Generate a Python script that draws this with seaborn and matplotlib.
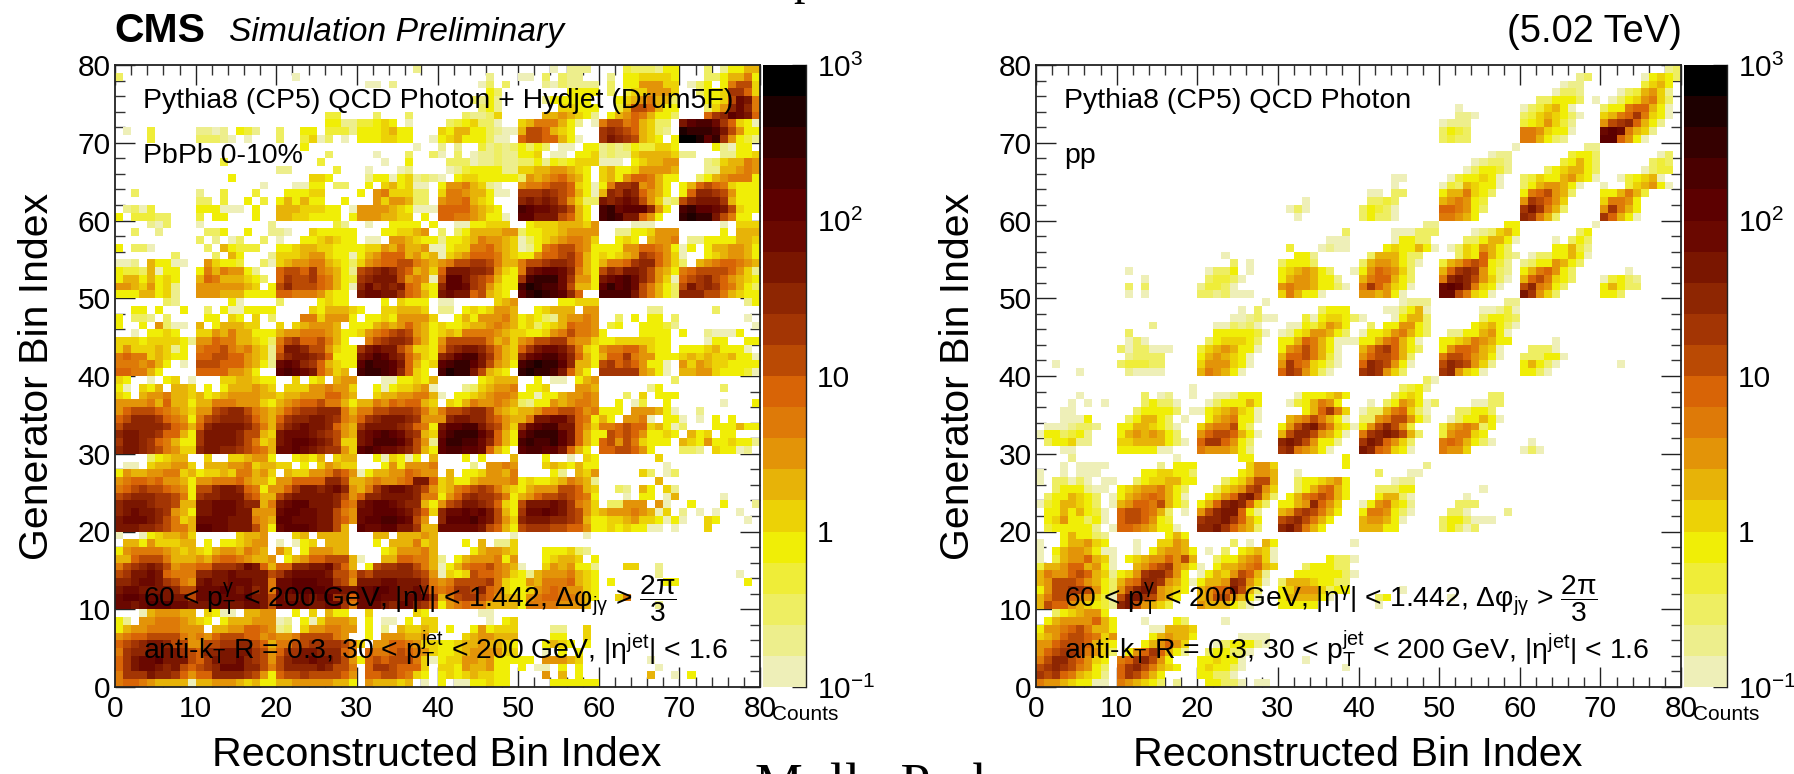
import numpy as np
import pandas as pd
import seaborn as sns
import matplotlib
matplotlib.use("Agg")
import matplotlib.pyplot as plt
from matplotlib.colors import ListedColormap, LogNorm
from matplotlib.ticker import FixedLocator, NullFormatter

# Colour levels: '.' = empty, a..t = 20 log-spaced count levels, 0.1 to 1000.
# Rows run from generator bin 79 down to 0; each group is 10 reconstructed bins; '-' = empty group.
LEVELS = "abcdefghijklmnopqrst"
LEVEL_COLORS = ["#EEEFB8", "#EDEE8C", "#EEEE62", "#EFED38", "#F0EE06",
                "#ECD206", "#E7B308", "#E39408", "#DE7A08", "#D86406",
                "#BA4A04", "#A33504", "#8E2602", "#7A1600", "#6A0800",
                "#5C0000", "#4A0000", "#350000", "#1E0000", "#000000"]

PBPB_ROWS = [
"- - - .......b.. - ....a.bbb. ...dcccbee ...c.beegg",
"c......... - ..a....... - ......b... aa.c.cbb.. .b.eeffffe ...cceggie",
"- - - .aa.b..... .....ac.c. ...bacbbbb .c.eehhhff .ace.eikkf",
"- - - - ......ec.. ......eeee .c.dffhhhf ..ceeflljf",
"- - - - ....cbeb.. ...beeeee. ..efghiggc ...eefkoni",
"- - - - .....ceb.. .....ffeee ..dgkkjgee ...cfhmomi",
"- - ......dd.. ..c...c... ...cbbcf.. ...gghgfeb .eghjigeec ...jlmponj",
"- - ......eebb ddefe.a... .cdefcca.. fgiiigeb.a ikkijgfcc. npqqoljfea",
".a..d..... bbab.edb.. c..ee.dddb eeefgee... feggeecbaa gkkjgfe... lmlkjgfcb. srrrqnkhee",
"....d..... cccba.a... c..dfac.a. eeeffee..a efgeeecaa. jkkjjgea.. lnmlkgfe.e ttsprlhedb",
"- - ...e...... .......a.. b.b..dbcbc ecec.aa.ee bcbceddffe ....ebaee.",
"- - ......c... ..a...c..c a.c.abbcbb eef.aa.eef bcbbfggggf bb...bbeef",
"- ...d...... .....d.... ...a..e... .cccabbcbb ccebedefff aaa.efgghh ...bcfggih",
"- - bb.....d.. .a...ab... .abdeeeebb ffgghhgfe. fgeefhhhhg ...bbgghih",
"- ....e..... ....ffe... .beeaefbcb a.effeeeee chghijhge. fgehjjigee ..ceghiiie",
"- ........a. ..aaee.cc. .e.fgefaa. ehhigfba.. hiijkkjfea eillmhige. egjkjifeee",
"..c....... b..d...d.. .eeeff.... e.hifffcc. fiihggeaa. lllmlkjgea gmlnmjhge. ejmmlkheee",
"- cc.d..e.d. egegee..e. ..hfhhgcc. hiijgfe... mnmnmkhfcc nmnonkhfbc kmnnnlgeee",
".bcad..... eeeaaa.e.. gggfffee.a hhhhgfeaaa jjjjhgfe.. qpoonmkge. qropppmhe. qrpponkfee",
"e.dddcc... d.ee...e.. ggffeeee.e hhhggff.e. jjiihgeea. ppnnnkjge. qrqnnjhe.. rsrrnkiee.",
"....bac... a........b .......db. .a..eeee.e ..aaeefff. .efffgggfh ....aaa... .....a.fff",
"..c..b.... .cce..e..b ba..feeeee ...eeffgh. c.cegggghh ceeffghhhh ..bbeefhhh .....e.ggg",
"- c.b.ac..c. a..eefgfee .aa.hhgfee beefgihhgf acefghiihf ..efe.ghhi .bbeeeeggf",
"e.cca..... .c.geddd.. eefggffeee effhgiggha aeffiijhgf abeijkkihe eeehhjjihe ae.egghhge",
".......c.. ..c.ge...b fffghhfeea eghjjjghfg afghjjjigf eehjjkljge fefghlkjhf a..efghhge",
"aab.geeaa. .hfeed..ca fghhiigfec fhijjkkihg hikkllkigg ikklmmljge giijlmmjhf c.ghijjihg",
"eddcgaee.. eigihheb.. jkkjlihgeb klmnmkjghf jnnnmmlhfe inoppomige kmlnnmkhge ijkkkkjhfb",
"eggegefe.. gjigggfec. jlkkljiged lmnnnkhiha kppnlkjgee lqrrrolhhe nopqomkhfa jklmkjhgfe",
"hhgfhefb.. hhhhhhgf.e kmkkkjigea momnmnjife mppolkhfee qsrqqokgge prpqokigec knlmljigec",
"eeeggefb.. hhhgggeeee jjiiihfee. noonnljige nonnjkgfe. prsrqpmj.. qqqqnkigec mmmkkigfee",
"......cb.. ....ea.... c....efee. ...e.feee. aa.....fgh .....eefff - ........be",
"..ee.e..e. .c.eaaeeee ....fegggf e..ffgggf. bb.efefhhg ..efggg.hh ......bb.. ....c.....",
"e.ccb.c... .ee.fe.f.c ...iifhhhe .eefehhhhf ..egehhhig efecbghhih ..c.e.ee.c ........a.",
"e..e.hcaa. g.egggff.. f.fghhhg.e eeghghjhge feefgghihg efcefgjiih .de..eeedb .........a",
"..a.eefe.. ffhgiggeee ghhiiihgee fhijklkhge fgfiiiihgf feefhikiih e....eeee. e..baaae..",
"fffeffffeb hhjiiggfec ikljjkige. .iklmmlige hkkkkkighf hikkllihhf eefffffee. ...aee..ee",
"fhfffgfbe. ijjkihigfb jnnmkkhfee lnonnkiffe ilmnnmkigf jlnoonlife hiijjhfee. eeefgeeea.",
"ijiifgfee. jjkkjjhgfb kmnnmljeee noqpnmjhfe mnpqqnligf mopqqomjge gjjlihheee fgfgffgeea",
"iiihige.a. kkkjjjhgeb opomljgfee prqqpnjgef pqrrpnkhge qrsrrpmgge kljkjheea. hfhgffeeee",
"jjiige.... jjjjhhge.. pqponjhfg. qrrqpmjfe. qsrrnkgfe. rsrrqnjge. lllllhgea. gghhfeeeda",
"fe..a.ef.a ...ffggfee ..f.ef.ghh ...aaeefeg .....efggg ..e.aa.egh .........c -",
"ea.feg.ggf .e.eggghgf .fffhhihhf ..eaeffgha ...bcfghhi .eef...hhg ......be.. .....c....",
"fe.ghhiggf gefghhhhgg fgghhhjjhg ..fgghhiig a.eefghiih eeaeeghhih ...c.f.eee -",
"hhhhigjgge ggiiihhhfe ghijjkiige ggihjijjgf .fegihhihg cbeehghiih ..e.ad..e. .....a...e",
"hjkkkjihgf hhklmmkihg hjkllmmmig iikklllkig ikklmmkhgf gghjjkkjhi eee.hhhgea ..b.......",
"jkmmmljihe iklmmmljhg jlmmnnmlih jlmnnnmlhh hmnnmmkjhg ginnoomjie ge.hhia.ee a.a.e.e...",
"kmmmmmljig jmnnnnmkig kmnonnmjhg lnnnnmljie nppqqnlkhf lopqqnnjhf iijkjjfgea c...eeegee",
"mnnmmljjge lnnnnmkkgf nooonmlkhg nopqpomlgf oqrrrpnjge oqrrrpnjge ekjkjheefe .gef.ee...",
"lnnmljigee lnnnnmkifg nopponmkff noqqqpnkhb prrqqomjge qrqqrpnjge jkhkifeee. gfeheefeeb",
"mnnmlkihff mnnmmlkjig ooponmllhf pqpoonmkge pqqppojge. pqqppnjge. jjkkjhe... ccb.feeab.",
"....cefgg. .f..ffghhe ..efeg.fgg ..eafeae.g ...e.e...g ...e..a.fe .......f.. -",
".aa.fgghhf .ggghhifgg ff.e.fhgff ...ehehhhi ....b.hhih ...fgfegee ........a. -",
"ehgghhiifg effgfiighf .gffhhikjh aegghhjihh .g.eefhhgi ....eb.gfh .....fc.ac -",
"hijjijhhge hhiiijhgge hhjjjjmmkg ghihhijnnj fgeeghhhhi efeefgihgb .......g.. -",
"ijklkkjihe kkmnnmjieh hjlnnmnomh gilnoonmkh fgijklkigf eghhhkkjgf ..cb.ge.fb -",
"klmmmllkie lmmnnnkjgg kmnnnnnmkh jmmnnnnmii ehjlmllkie ghjkklkjie ...a.ee.ag .....a....",
"mnnnmllkgg nnooonmmgi noppnnnmji nopponmmge hklnnmljfe knnnonlihf .cchhh.ha. .e...e...b",
"mnonnmlhge nnooonnhhh oppoonnkih ooppponljf moopopnkge looponlkhf ghhhihgaf. b.a.a..a..",
"nooonmkifg oooonnnihg ppooonnkjh oppqqpokh. mpppqonkhf mnnnmmlkge effghffeae a..fe...a.",
"nnnmmlkiig ppoonnnkhe oppponnkg. pooppnnlgg ooooonkjge klllkkjjhe efefeeaa.a ...f......",
"a..aefgghf .....fggh. ..fg.gggg. ..gg.ggghg .........a ........a. - -",
".ggehfffgg .e.eefghh. a.aef.ggg. ..e.gggifg ...e.g.bbf - - -",
"ehiiiihgfg feghhgihg. hf.ehhhgg. ...efhhhig ....eghhgf ...eeefcb. - -",
"ggjkkkiggg hgijjihggh .eghjjkkkg a..ggjjiig b.eghhhieh ...efggf.e - -",
"iklmnmkhii jjlllmonjg jjmmnnoljg .ekllmmkig aegijjkihg a..fhgheeb ...ff..b.. -",
"klnnonjiii mmnnonnnnk lnoooonkki lkmmmmmlkh afefkjjihf ebghhhigfe .......b.. .......a..",
"mmnoonlkih nonnooonni oopppoolkh nnnoonnnli hikkkklife ehgiiijgfe .e......ee ........e.",
"noonnnnmkk oooponomni ooppppoonn oopponnomj ijllkmjife efhijihhfe - -",
"oppooonnnk oooooopnnk onnonoplmj oopoonoool gikllkjhgg ehijjiihge ..fi...... -",
"oonopppoon nnoonnoonk oooonnooli ooonmoomlj ehijiigggg eiiiihhhg. .......b.. -",
"...aghhhgg .feaa.gghh ..e.f.gee. .f.....fe. .....aa... - - -",
"eb.hhiiihg fe.eggghhh ab.eafhhhg .e.aa.e.ff ......a.ef - - -",
"eghhiiiihh h.gghhjjih bc.fhhiihh .e.b.gffgf .e..ehefff ....bb..f. - -",
"hijjkkkkih ihjkkkjjhi hhikkkkih. .e.hhhggh. ...fghhggg ....ee..f. - -",
"jklmnnmkkh hkkllmmkjg iikkllllki f.hhjjihff eefgghggfe ...egfe.e. - -",
"ilmmnnnnlk jmmnnnnlkh jllnnmmmji .jiijkjihf eefghhhhff ...a.e.e.. - -",
"jlnoopnnnk jlnnnomlkh kmnnonnmkh ejkjkkkifa effhhgheee ee.hhhgf.. ......a... -",
"jlnoonmnkj klmooommki kmmmmnmkki .jllkjjjf. ffehgghee. e.aa.e.e.. .......a.. -",
"illlnmmljh jjmmmmlkhe jkklkkkkjh .jjkkjife. efefgffee. ...h.g.e.. ......g..a .e........",
"ijjihgggga gghhhgfgee gghhhhhgge .hgggfg.a. e.aaeefee. ....eeeeee - -",
]

PP_ROWS = [
"- - - - - - - ........bc",
"- - - - - - .......bc. .....aefec",
"- - - - - - .....abb.. .....dfge.",
"- - - - - - ....accb.. ..acdghfb.",
"- - - - - - ..cceeec.a .acefhifc.",
"- - - - - ..a....... acdfgea... ceeijjgea.",
"- - - - - ..bba..... cdfgfeca.. fgijlifea.",
"- - - - - abbb...... defhfdb... hklmjgeb..",
"- - - - - cedc...... iihfeea... opoigfb...",
"- - - - - cdcc...... iigecb.... ppjhea....",
"- - - - - .........a ........bb -",
"- - - - - ......abb. ......deec .......ac.",
"- - - - - ....abccb. .....degec ......cdc.",
"- - - - - ...aceedb. ...cefggec .....acdd.",
"- - - - ....aa.... .adeefea.. cdfeeghfea ..adefga..",
"- - - - ....a..... adcgfeea.. ceghhgea.. a..dfghea.",
"- - - - .aa.cc.... eggifec... eijkhgc... eegigd....",
"- - - ...a...... .ccdc..... ghihed.... hlkjhf.... fiihe.....",
"- - - .aca...... cedca..... jjihec.... lnligc.... hlige.....",
"- - - ..a....... cecca..... iihge..... mligc..... ljgea.....",
"- - - - ........bb ........ee .........a -",
"- - - ........c. ....aaaccc ....abcfge .......ce. -",
"- - - ......aaa. ....aeecc. ...cceggea ....a.cec. -",
"- - - .d...abaa. ...efeegea .acfehgec. ....eegdb. -",
"- - ...a...... ..eeb..... .cgggecc.. ..cfejgecb .acceegea. -",
"- - ....c.a... ceeec..... cghhgeca.. dghjkjedb. bceehgec.. -",
"- .a........ .acce.a... efghgec..a ehjihfc... gjlmlhecb. egijhec... ...a......",
"- ...a...... .cddca.... eghhgeeb.. gijjgec... imnmkhfca. gjkifec... adecb.....",
"- .c.c...... bddca..... hihhgeeca. iljhfea... opomifea.. kmihec.... egecc.....",
"- .a.a...... ccbcaaa... figeea.... hhghea.... ookifea... nlhfc..... eec.......",
"- - ........a. - .....abbb. ........bb - -",
"- - .....a.c.. .....ceee. ...aacega. .....aabda - -",
"- - ....aabcaa ...daeffec a...aeggc. .....ceedc - -",
"- ....b..... ..aacbca.. .aaedfhge. .c.eehhec. ....efgeca - -",
"- .c........ ..eeeeeda. abefhhgec. aeefhigec. .bbeeghea. - -",
"- .aca...... .cefffec.. eegjigeaaa eegijgea.. eefgihgee. ....a..... -",
"- caccaaa... dfghgeea.. ehikigea.. gikljgec.. ehjjigfa.. .ccca..... -",
"- .bcccc.... eghgfea... gjjkigda.. hjkkjgc... ikkjhgea.. ccceea.... -",
"..a....... cdddcc.... fhhhfea... hljifeca.. jmlkhea... kmlkhfb... egeca..... ..a.......",
".....a.... .baaaa.... gihgea.... jlkhfca... lmlhfc.... lmhfea.... eeca...... -",
"- - - - ........ca - - -",
"- .........a - - .....cdeb. - - -",
".....a.... ...c.ab..a ..aabeee.. ..aeeefge. ....cefe.. ......cc.. - -",
"....a.a.a. ...cecca.. .aceeege.. .adegihe.. .a.cehgeac ....aacc.. - -",
"...aa..... ..ceeeec.a aefghfea.. ...egjlif. accgijfca. ..cceec... - -",
"...aaae... .ceggec.a. .eghieea.. .ghikigea. cchikkheb. .aceegea.. - -",
".aaabccb.. eeggfeca.. fhiikec... ehkmnkifea ehkmkhd... dghihce... - -",
"aeecdeb... eghghgec.. hjkkjgea.. gkmmkhgea. ilmnmkgc.. dhiife.... - -",
".ceefbb... ffggggeca. jlljhec... mnmkheeb.. lnmjhfc... ijigeca... .a........ -",
"...aa..... eeeeeaa... ihhhgeb... lmihgea... nmjifea... ihhf...... aca....... -",
"....b..... .......a.. .....ee... ........e. - - - -",
"...a.aaaa. .....b.eee ......fhhf ........e. ........b. - - -",
"a..a.aaa.. ...eeffeec .....efhhg ..a....... ..c...aa.. - - -",
"a.ccaca.aa ..ceffggee ...cefhkkg ..ceefghe. ....abb... - - -",
"..ceeebaa. efghhigec. ..cfghklhf ..cegijge. ..cccee... .....a.... - -",
".ceegfec.a eghijigea. .efhjmnkgc .egijkjge. ..eggca... ...a...... - -",
"adeggfec.a ghjjikgec. egjmnmjfc. eeghmjhf.. aehifeb... ..ccc..... - -",
".eegegeda. jkkjigc.a. hkmnnjeb.. ghklkige.. eiiheca... .cca....b. - -",
".efheecea. jkkjhed... lmmnljge.. klmkige... ghhgea.... ceecaaa... - -",
".deeeeeb.a jjihgeea.. mmnljhgc.. mnlige.... gggee..... cecac..... - -",
"...egeecb. ......ege. - - - - - -",
"a..egghfe. ..a..ffhg. ....c.a.ge .........a - - - -",
"a.eghhgeaa ..a.eghhge .a.c.efgfa - - - - -",
"a.dghhjgfa .efghhjhkg ..ceeghifa ......ecca - - - -",
"dgghjjghea ..ghjklhge a.egghijgf ...ceeecc. - - - -",
"gihhjkjgfb efhlmmkhe. aegfhkjgb. ..eeeeeeca - - - -",
"ghkkkjhgec gijmmlhgea egghmlhfa. cgggfeecc. - - - -",
"ehkkllkhec hkmnmhgfe. ghjjnkgc.. efhhhfcee. .....a.... - - -",
"gikkjihfda knnlkhge.. ghkkhgea.. eggggea... ..ce...... .a........ - -",
"gkjjhgfedb mnkhgfd... hgggeca... eeeee..... ..a....... - - -",
"..cefghhe. - - - - - - -",
".eghhhhjge ...a...ec. ...a...... - - - - -",
"ehhijkigge ....aagggf - - - - - -",
"fghjkkjifh ....eghgge .....aaaa. - - - - -",
"hhjkkkjgfe ...eghjhf. ..aceeeba. - - - - -",
"hjkllkihfc .ehjljgeb. .ceecca... - - - - -",
"ikmmkjhfe. ijlmkhe... eefeea.... ...a...... - - - -",
"klmlkihec. jlmkigfe.. efeeca.... ........a. - - - -",
"lkljigfeb. jlkige.... eecca..... - - - - -",
"ihhgfeeaa. ihgfec.b.. .eecca.aa. - - - - -",
]

TICK_LABELS = ["0", "10", "20", "30", "40", "50", "60", "70", "80"]
CBAR_TICKS = [0.1, 1, 10, 100, 1000]
CBAR_LABELS = [r"$10^{-1}$", "1", "10", r"$10^{2}$", r"$10^{3}$"]
LINE_KIN1 = r"60 < p$_{\mathrm{T}}^{\gamma}$ < 200 GeV, |η$^{\gamma}$| < 1.442, Δφ$_{\mathrm{j}\gamma}$ > $\dfrac{2\pi}{3}$"
LINE_KIN2 = r"anti-k$_{\mathrm{T}}$ R = 0.3, 30 < p$_{\mathrm{T}}^{\mathrm{jet}}$ < 200 GeV, |η$^{\mathrm{jet}}$| < 1.6"


def decode(rows):
    out = np.full((80, 80), np.nan)
    for i, line in enumerate(rows):
        groups = line.split()
        text = ""
        for g in groups:
            text += "." * 10 if g == "-" else g.ljust(10, ".")[:10]
        for j, ch in enumerate(text[:80]):
            if ch != ".":
                k = LEVELS.index(ch)
                out[79 - i, j] = 10 ** (-1 + 0.2 * (k + 0.5))
    return out


sns.set_theme(style="white")
plt.rcParams["font.family"] = ["Liberation Sans", "DejaVu Sans"]
plt.rcParams["mathtext.fontset"] = "custom"
plt.rcParams["mathtext.rm"] = "Liberation Sans"
plt.rcParams["mathtext.it"] = "Liberation Sans:italic"
plt.rcParams["mathtext.bf"] = "Liberation Sans:bold"
plt.rcParams["mathtext.default"] = "regular"
plt.rcParams["mathtext.fallback"] = "stix"

W, H = 1794, 774
fig = plt.figure(figsize=(W / 100, H / 100), dpi=100)
cmap = ListedColormap(LEVEL_COLORS)
norm = LogNorm(vmin=0.1, vmax=1000)


def axrect(x0, x1, y0, y1):
    return [x0 / W, 1 - y1 / H, (x1 - x0) / W, (y1 - y0) / H]


def ptext(x, y, s, **kw):
    return fig.text(x / W, 1 - y / H, s, **kw)


def panel(rows, x0, tag):
    ax = fig.add_axes(axrect(x0, x0 + 645, 65, 687))
    cax = fig.add_axes(axrect(x0 + 648, x0 + 691, 65, 687))
    data = decode(rows)
    frame = pd.DataFrame(data)
    sns.heatmap(frame, ax=ax, cbar_ax=cax, cmap=cmap, norm=norm, mask=np.isnan(data),
                xticklabels=False, yticklabels=False, linewidths=0)
    ax.set_xlim(0, 80)
    ax.set_ylim(0, 80)
    ax.set_xlabel("")
    ax.set_ylabel("")
    ax.set_xticks(np.arange(0, 81, 10))
    ax.set_yticks(np.arange(0, 81, 10))
    ax.set_xticks(np.arange(0, 81, 2), minor=True)
    ax.set_yticks(np.arange(0, 81, 2), minor=True)
    ax.set_xticklabels(TICK_LABELS)
    ax.set_yticklabels(TICK_LABELS)
    ax.tick_params(which="major", direction="in", length=14.5, width=1.0, top=True, right=True,
                   bottom=True, left=True, color="#222222", labelsize=21.5, pad=4, labelcolor="black")
    ax.tick_params(which="minor", direction="in", length=7.2, width=1.0, top=True, right=True,
                   bottom=True, left=True, color="#333333")
    ax.tick_params(axis="x", which="major", pad=6)
    ax.tick_params(axis="y", which="major", pad=3)
    for s in ax.spines.values():
        s.set_visible(True)
        s.set_linewidth(1.3)
        s.set_color("#222222")
    cax.set_yscale("log")
    cax.set_ylim(0.1, 1000)
    cax.yaxis.set_major_locator(FixedLocator(CBAR_TICKS))
    cax.set_yticklabels(CBAR_LABELS)
    minors = [m * 10.0 ** e for e in range(-1, 3) for m in range(2, 10)]
    cax.yaxis.set_minor_locator(FixedLocator(minors))
    cax.yaxis.set_minor_formatter(NullFormatter())
    cax.yaxis.tick_right()
    cax.tick_params(which="major", direction="in", length=10, width=1.0, color="#222222",
                    labelsize=21.5, pad=8, right=True, left=False, labelcolor="black")
    cax.tick_params(which="minor", direction="in", length=5, width=1.0, color="#333333",
                    right=True, left=False)
    for s in cax.spines.values():
        s.set_visible(False)
    cax.spines["right"].set_visible(True)
    cax.spines["right"].set_linewidth(1.0)
    cax.spines["right"].set_color("#222222")

    tx = x0 + 28
    ptext(tx, 108, "Pythia8 (CP5) QCD Photon" + (" + Hydjet (Drum5F)" if tag else ""),
          fontsize=20.5, ha="left", va="baseline", color="black")
    ptext(tx, 163, tag if tag else "pp", fontsize=20.5, ha="left", va="baseline", color="black")
    ptext(tx, 607, LINE_KIN1, fontsize=20.3, ha="left", va="baseline", color="black")
    ptext(tx, 659, LINE_KIN2, fontsize=20.4, ha="left", va="baseline", color="black")
    ptext(x0 + 322, 766, "Reconstructed Bin Index", fontsize=29.7, ha="center", va="baseline", color="black")
    ptext(x0 - 78, 376, "Generator Bin Index", fontsize=29.5, ha="center", va="center",
          rotation=90, color="black")
    ptext(x0 + 690, 720, "Counts", fontsize=15, ha="center", va="baseline", color="black")


panel(PBPB_ROWS, 115, "PbPb 0-10%")
panel(PP_ROWS, 1036, "")

ptext(114, 42, "CMS", fontsize=29.5, fontweight="bold", ha="left", va="baseline", color="black")
ptext(229, 41, "Simulation Preliminary", fontsize=24.2, fontstyle="italic", ha="left", va="baseline", color="black")
ptext(1682, 42, "(5.02 TeV)", fontsize=27.4, ha="right", va="baseline", color="black")
ptext(755, 801, "Molly Park", fontsize=38.8, family="Liberation Serif", ha="left", va="baseline", color="black")
ptext(805, -6, "p", fontsize=33, family="Liberation Serif", ha="center", va="baseline", color="black")

fig.savefig("out.png", dpi=100, facecolor="white")
